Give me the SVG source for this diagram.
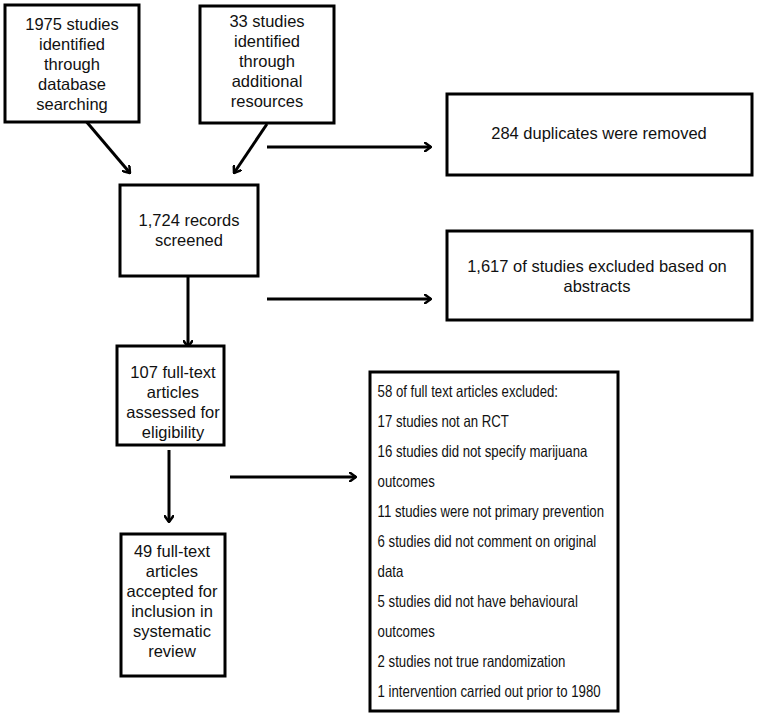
<svg xmlns="http://www.w3.org/2000/svg" width="773" height="718" viewBox="0 0 773 718">
<style>
rect{fill:#fff;stroke:#000;stroke-width:3}
text{font-family:"Liberation Sans",Arial,sans-serif;font-size:16.5px;fill:#111}
.c{text-anchor:middle}
.r{font-size:16.5px}
.e line{stroke:#000;stroke-width:3}
</style>
<defs><marker id="a" markerWidth="8" markerHeight="10" refX="7" refY="5" orient="auto" markerUnits="userSpaceOnUse"><path d="M0,0 L7,5 L0,10" fill="none" stroke="#000" stroke-width="2.5"/></marker></defs>
<rect width="773" height="718" style="fill:#fff;stroke:none"/>
<g class="e">
<line x1="85" y1="120" x2="130" y2="173" marker-end="url(#a)"/>
<line x1="267" y1="124" x2="234" y2="173" marker-end="url(#a)"/>
<line x1="267" y1="147" x2="431" y2="147" marker-end="url(#a)"/>
<line x1="267" y1="299" x2="431" y2="299" marker-end="url(#a)"/>
<line x1="188" y1="276" x2="188" y2="347" marker-end="url(#a)"/>
<line x1="169" y1="450" x2="169" y2="522" marker-end="url(#a)"/>
<line x1="230" y1="477" x2="356" y2="477" marker-end="url(#a)"/>
</g>
<g id="n1"><rect x="5" y="5" width="134" height="117"/><text class="c" x="72" y="30">1975 studies<tspan x="72" dy="20">identified</tspan><tspan x="72" dy="20">through</tspan><tspan x="72" dy="20">database</tspan><tspan x="72" dy="20">searching</tspan></text></g>
<g id="n2"><rect x="200" y="6" width="134" height="117"/><text class="c" x="267" y="27">33 studies<tspan x="267" dy="20">identified</tspan><tspan x="267" dy="20">through</tspan><tspan x="267" dy="20">additional</tspan><tspan x="267" dy="20">resources</tspan></text></g>
<g id="n3"><rect x="120" y="185" width="138" height="91"/><text class="c" x="189" y="226">1,724 records<tspan x="189" dy="20">screened</tspan></text></g>
<g id="n4"><rect x="117" y="346" width="107" height="99"/><text class="c" x="173" y="378">107 full-text<tspan x="173" dy="20">articles</tspan><tspan x="173" dy="20">assessed for</tspan><tspan x="173" dy="20">eligibility</tspan></text></g>
<g id="n5"><rect x="121" y="534" width="104" height="142"/><text class="c" x="172" y="557">49 full-text<tspan x="172" dy="20">articles</tspan><tspan x="172" dy="20">accepted for</tspan><tspan x="172" dy="20">inclusion in</tspan><tspan x="172" dy="20">systematic</tspan><tspan x="172" dy="20">review</tspan></text></g>
<g id="n6"><rect x="447" y="94" width="305" height="81"/><text class="c" x="599" y="139">284 duplicates were removed</text></g>
<g id="n7"><rect x="447" y="231" width="305" height="89"/><text class="c" x="597" y="272">1,617 of studies excluded based on<tspan x="597" dy="20">abstracts</tspan></text></g>
<g id="n8"><rect x="370" y="372" width="248" height="339"/>
<g transform="scale(0.8,1)"><text class="r" x="472" y="397">58 of full text articles excluded:<tspan x="472" dy="30">17 studies not an RCT</tspan><tspan x="472" dy="30">16 studies did not specify marijuana</tspan><tspan x="472" dy="30">outcomes</tspan><tspan x="472" dy="30">11 studies were not primary prevention</tspan><tspan x="472" dy="30">6 studies did not comment on original</tspan><tspan x="472" dy="30">data</tspan><tspan x="472" dy="30">5 studies did not have behavioural</tspan><tspan x="472" dy="30">outcomes</tspan><tspan x="472" dy="30">2 studies not true randomization</tspan><tspan x="472" dy="30">1 intervention carried out prior to 1980</tspan></text></g></g>
</svg>
